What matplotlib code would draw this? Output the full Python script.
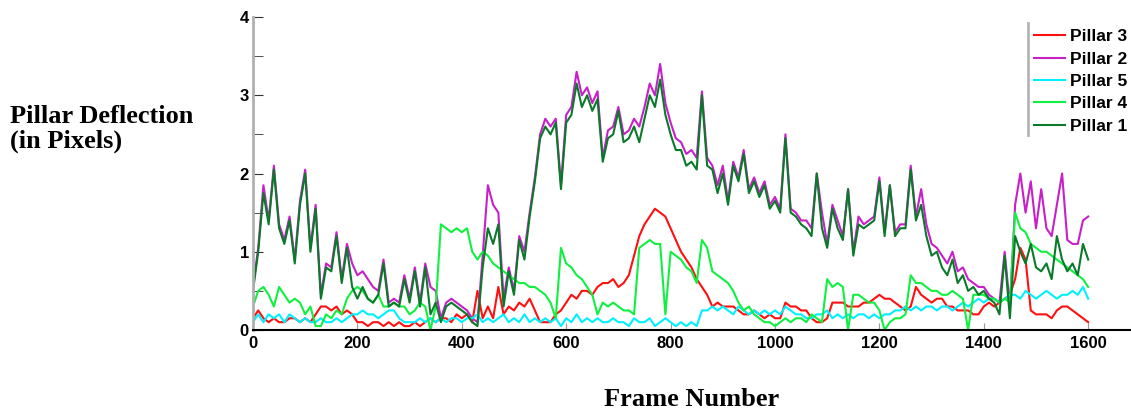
import numpy as np
import matplotlib
matplotlib.use("Agg")
import matplotlib.pyplot as plt
from matplotlib.lines import Line2D
from matplotlib.ticker import MultipleLocator

# frame numbers, sampled every 10 frames
frames = np.arange(0, 1601, 10)

pillar1 = [0.5, 1.0, 1.75, 1.35, 2.05, 1.3, 1.1, 1.4, 0.85, 1.6,
           2.0, 1.0, 1.55, 0.4, 0.8, 0.75, 1.2, 0.6, 1.05, 0.55,
           0.4, 0.55, 0.4, 0.35, 0.45, 0.85, 0.3, 0.35, 0.3, 0.65,
           0.35, 0.75, 0.3, 0.8, 0.2, 0.35, 0.1, 0.3, 0.35, 0.3,
           0.25, 0.2, 0.1, 0.05, 0.8, 1.3, 1.1, 1.35, 0.3, 0.75,
           0.45, 1.15, 0.9, 1.45, 1.9, 2.45, 2.6, 2.5, 2.65, 1.8,
           2.65, 2.75, 3.15, 2.85, 3.0, 2.8, 2.95, 2.15, 2.45, 2.5,
           2.8, 2.4, 2.45, 2.6, 2.4, 2.7, 3.0, 2.85, 3.2, 2.75,
           2.5, 2.3, 2.3, 2.1, 2.15, 2.05, 3.0, 2.1, 2.05, 1.75,
           2.0, 1.6, 2.1, 1.9, 2.25, 1.75, 1.9, 1.7, 1.85, 1.55,
           1.65, 1.5, 2.45, 1.5, 1.45, 1.35, 1.3, 1.2, 2.0, 1.3,
           1.05, 1.55, 1.3, 1.15, 1.8, 0.95, 1.35, 1.3, 1.35, 1.4,
           1.9, 1.2, 1.85, 1.2, 1.3, 1.3, 2.05, 1.4, 1.6, 1.2,
           0.95, 1.0, 0.8, 0.7, 0.9, 0.6, 0.7, 0.5, 0.55, 0.45,
           0.5, 0.4, 0.35, 0.2, 0.95, 0.15, 1.2, 1.0, 0.85, 1.1,
           0.8, 0.75, 0.85, 0.65, 1.2, 0.9, 0.75, 0.85, 0.7, 1.1,
           0.9]

pillar2 = [0.55, 1.05, 1.85, 1.4, 2.1, 1.35, 1.15, 1.45, 0.9, 1.65,
           2.05, 1.05, 1.6, 0.45, 0.85, 0.8, 1.25, 0.65, 1.1, 0.85,
           0.7, 0.75, 0.65, 0.55, 0.5, 0.9, 0.35, 0.4, 0.35, 0.7,
           0.4, 0.8, 0.35, 0.85, 0.55, 0.5, 0.15, 0.35, 0.4, 0.35,
           0.3, 0.25, 0.15, 0.1, 0.95, 1.85, 1.6, 1.5, 0.4, 0.8,
           0.5, 1.2, 1.0, 1.5, 1.95, 2.5, 2.7, 2.6, 2.7, 1.85,
           2.75, 2.85, 3.3, 3.0, 3.1, 2.9, 3.05, 2.2, 2.55, 2.6,
           2.85, 2.5, 2.55, 2.7, 2.6, 2.85, 3.15, 3.0, 3.4, 2.9,
           2.65, 2.45, 2.4, 2.25, 2.3, 2.2, 3.05, 2.2, 2.1, 1.85,
           2.1, 1.65, 2.15, 1.95, 2.3, 1.8, 1.95, 1.75, 1.9, 1.6,
           1.7, 1.55, 2.5, 1.55, 1.5, 1.4, 1.4, 1.3, 2.0, 1.5,
           1.1, 1.6, 1.4, 1.2, 1.8, 1.0, 1.45, 1.35, 1.4, 1.45,
           1.95, 1.25, 1.85, 1.25, 1.35, 1.35, 2.1, 1.45, 1.8, 1.35,
           1.1, 1.05, 0.95, 0.85, 1.0, 0.75, 0.8, 0.65, 0.6, 0.55,
           0.55, 0.45, 0.4, 0.35, 1.0, 0.3, 1.6, 2.0, 1.5, 1.9,
           1.3, 1.8, 1.3, 1.2, 1.6, 2.0, 1.15, 1.1, 1.1, 1.4,
           1.45]

pillar3 = [0.15, 0.25, 0.15, 0.1, 0.15, 0.1, 0.1, 0.15, 0.15, 0.1,
           0.15, 0.1, 0.2, 0.3, 0.3, 0.25, 0.3, 0.2, 0.25, 0.2,
           0.1, 0.1, 0.05, 0.1, 0.1, 0.05, 0.1, 0.05, 0.1, 0.05,
           0.05, 0.1, 0.05, 0.1, 0.15, 0.1, 0.15, 0.15, 0.1, 0.2,
           0.15, 0.2, 0.1, 0.5, 0.15, 0.3, 0.15, 0.55, 0.2, 0.3,
           0.25, 0.35, 0.3, 0.4, 0.25, 0.1, 0.1, 0.1, 0.2, 0.25,
           0.35, 0.45, 0.4, 0.5, 0.5, 0.45, 0.55, 0.6, 0.6, 0.65,
           0.55, 0.6, 0.7, 0.95, 1.2, 1.35, 1.45, 1.55, 1.5, 1.45,
           1.3, 1.15, 1.0, 0.9, 0.8, 0.65, 0.55, 0.45, 0.3, 0.35,
           0.3, 0.3, 0.3, 0.25, 0.2, 0.2, 0.25, 0.2, 0.15, 0.2,
           0.15, 0.15, 0.35, 0.3, 0.3, 0.25, 0.25, 0.15, 0.1, 0.1,
           0.15, 0.35, 0.35, 0.35, 0.3, 0.3, 0.3, 0.35, 0.35, 0.4,
           0.45, 0.4, 0.4, 0.35, 0.3, 0.25, 0.3, 0.55, 0.45, 0.4,
           0.35, 0.4, 0.4, 0.3, 0.3, 0.25, 0.25, 0.25, 0.2, 0.2,
           0.3, 0.35, 0.3, 0.35, 0.4, 0.45, 0.65, 1.05, 0.9, 0.25,
           0.2, 0.2, 0.2, 0.15, 0.25, 0.3, 0.3, 0.25, 0.2, 0.15,
           0.1]

pillar4 = [0.3, 0.5, 0.55, 0.45, 0.3, 0.55, 0.45, 0.35, 0.4, 0.35,
           0.2, 0.3, 0.05, 0.05, 0.2, 0.15, 0.25, 0.2, 0.4, 0.5,
           0.55, 0.5, 0.4, 0.35, 0.45, 0.3, 0.3, 0.35, 0.3, 0.3,
           0.2, 0.25, 0.35, 0.3, 0.0, 0.3, 1.35, 1.3, 1.25, 1.3,
           1.25, 1.3, 1.0, 0.9, 1.0, 0.95, 0.85, 0.8, 0.75, 0.7,
           0.65, 0.6, 0.6, 0.55, 0.55, 0.5, 0.45, 0.35, 0.15, 1.05,
           0.85, 0.8, 0.7, 0.65, 0.55, 0.45, 0.2, 0.35, 0.3, 0.35,
           0.3, 0.25, 0.25, 0.2, 1.05, 1.1, 1.15, 1.1, 1.1, 0.2,
           1.0, 0.95, 0.9, 0.8, 0.75, 0.6, 1.15, 1.05, 0.75, 0.7,
           0.65, 0.6, 0.5, 0.35, 0.25, 0.3, 0.2, 0.15, 0.1, 0.1,
           0.05, 0.1, 0.15, 0.1, 0.15, 0.15, 0.1, 0.2, 0.15, 0.1,
           0.65, 0.55, 0.6, 0.55, 0.0, 0.45, 0.45, 0.4, 0.35, 0.35,
           0.25, 0.0, 0.1, 0.15, 0.15, 0.2, 0.7, 0.6, 0.6, 0.55,
           0.5, 0.5, 0.45, 0.45, 0.5, 0.45, 0.4, 0.0, 0.45, 0.45,
           0.45, 0.4, 0.4, 0.35, 0.4, 0.35, 1.5, 1.3, 1.25, 1.1,
           1.05, 1.0, 1.0, 0.95, 0.9, 0.85, 0.8, 0.75, 0.7, 0.65,
           0.55]

pillar5 = [0.1, 0.2, 0.1, 0.2, 0.15, 0.2, 0.1, 0.2, 0.15, 0.1,
           0.15, 0.1, 0.1, 0.15, 0.1, 0.1, 0.15, 0.1, 0.15, 0.2,
           0.2, 0.25, 0.2, 0.2, 0.15, 0.2, 0.25, 0.25, 0.15, 0.1,
           0.1, 0.1, 0.15, 0.1, 0.15, 0.1, 0.15, 0.1, 0.15, 0.15,
           0.1, 0.15, 0.15, 0.2, 0.1, 0.15, 0.1, 0.15, 0.2, 0.1,
           0.15, 0.1, 0.2, 0.1, 0.15, 0.1, 0.15, 0.1, 0.15, 0.05,
           0.15, 0.1, 0.2, 0.1, 0.15, 0.1, 0.15, 0.1, 0.1, 0.15,
           0.1, 0.1, 0.05, 0.15, 0.1, 0.1, 0.15, 0.05, 0.1, 0.15,
           0.1, 0.05, 0.1, 0.05, 0.1, 0.05, 0.25, 0.25, 0.3, 0.25,
           0.3, 0.25, 0.2, 0.3, 0.25, 0.2, 0.25, 0.2, 0.25, 0.2,
           0.25, 0.2, 0.3, 0.25, 0.2, 0.2, 0.15, 0.15, 0.2, 0.2,
           0.25, 0.15, 0.2, 0.15, 0.2, 0.15, 0.2, 0.2, 0.15, 0.2,
           0.15, 0.2, 0.2, 0.25, 0.25, 0.3, 0.25, 0.3, 0.25, 0.3,
           0.3, 0.25, 0.3, 0.3, 0.25, 0.3, 0.35, 0.3, 0.35, 0.4,
           0.35, 0.4, 0.4, 0.35, 0.4, 0.45, 0.45, 0.4, 0.5, 0.45,
           0.4, 0.45, 0.5, 0.45, 0.4, 0.45, 0.45, 0.5, 0.45, 0.55,
           0.4]

# plotted in legend order (last one ends on top)
series = [
    (pillar3, "Pillar 3", "#ff1010"),
    (pillar2, "Pillar 2", "#c820c8"),
    (pillar5, "Pillar 5", "#00f0ff"),
    (pillar4, "Pillar 4", "#10f040"),
    (pillar1, "Pillar 1", "#0a7a2a"),
]

W, H = 1131, 412
fig = plt.figure(figsize=(W / 100, H / 100), dpi=100)
ax = fig.add_axes([253 / W, 82 / H, (W - 253) / W, 313 / H])

for vals, lab, col in series:
    assert len(vals) == len(frames)
    ax.plot(frames, vals, color=col, lw=1.5, label=lab)

ax.set_xlim(0, 1682)
ax.set_ylim(0, 4)

for s in ("top", "right"):
    ax.spines[s].set_visible(False)
ax.spines["left"].set_color("#b0b0b0")
ax.spines["left"].set_linewidth(2)
ax.spines["bottom"].set_color("black")
ax.spines["bottom"].set_linewidth(1.5)

tick_font = {"family": "Liberation Sans", "weight": "bold", "size": 12}
ax.set_xticks(np.arange(0, 1601, 200))
ax.yaxis.set_major_locator(MultipleLocator(1))
ax.yaxis.set_minor_locator(MultipleLocator(0.5))
ax.tick_params(axis="x", direction="in", length=5, color="#999999", pad=4)
ax.tick_params(axis="y", which="both", direction="in", length=7, color="#333333", pad=3)
for lbl in ax.get_xticklabels() + ax.get_yticklabels():
    lbl.set_fontproperties(tick_font)

leg = ax.legend(loc="upper left", bbox_to_anchor=(1034 / W, 1 - 29 / H),
                bbox_transform=fig.transFigure, frameon=False,
                borderpad=0, borderaxespad=0, handlelength=1.8,
                handletextpad=0.25, labelspacing=0.42,
                prop={"family": "Liberation Sans", "weight": "bold", "size": 12.5})

# grey bar left of the legend
fig.add_artist(Line2D([1028 / W, 1028 / W], [1 - 23 / H, 1 - 135 / H],
                      color="#b5b5b5", lw=2))

label_font = {"family": "Liberation Serif", "weight": "bold", "size": 19}
fig.text(10 / W, 1 - 129 / H, "Pillar Deflection\n(in Pixels)", ha="left",
         va="center", linespacing=1.05, fontdict=label_font)
fig.text(692 / W, 1 - 399 / H, "Frame Number", ha="center", va="center",
         fontdict=label_font)

fig.savefig("out.png", dpi=100)
